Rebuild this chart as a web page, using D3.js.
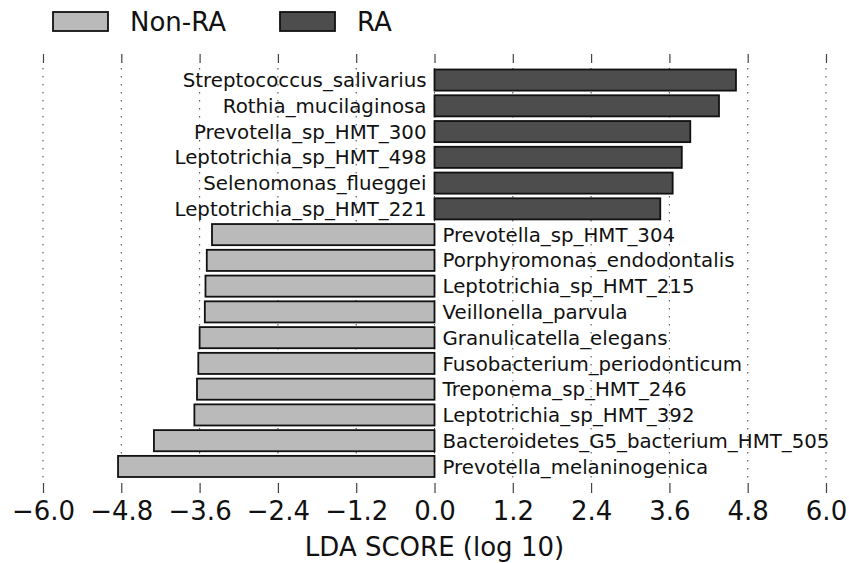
<!DOCTYPE html>
<html>
<head>
<meta charset="utf-8">
<script src="https://cdn.jsdelivr.net/npm/d3@7"></script>
<style>
  body { margin: 0; background: #fff; }
  text { font-family: 'DejaVu Sans', sans-serif; }
</style>
</head>
<body>
<div id="chart"></div>
<script>
let taxa = [
  'Streptococcus_salivarius',
  'Rothia_mucilaginosa',
  'Prevotella_sp_HMT_300',
  'Leptotrichia_sp_HMT_498',
  'Selenomonas_flueggei',
  'Leptotrichia_sp_HMT_221',
  'Prevotella_sp_HMT_304',
  'Porphyromonas_endodontalis',
  'Leptotrichia_sp_HMT_215',
  'Veillonella_parvula',
  'Granulicatella_elegans',
  'Fusobacterium_periodonticum',
  'Treponema_sp_HMT_246',
  'Leptotrichia_sp_HMT_392',
  'Bacteroidetes_G5_bacterium_HMT_505',
  'Prevotella_melaninogenica'
]
let ldaScores = [
  4.62, 4.36, 3.92, 3.79, 3.65, 3.46,
  -3.41, -3.49, -3.51, -3.52, -3.6, -3.62, -3.64, -3.68, -4.3, -4.85
]
let groups = ['Non-RA', 'RA']
let tickValues = [-6.0, -4.8, -3.6, -2.4, -1.2, 0.0, 1.2, 2.4, 3.6, 4.8, 6.0]

let width = 849
let height = 563

let svg = d3
  .select('#chart')
  .append('svg')
  .attr('width', width)
  .attr('height', height)

let data = taxa.map((t, i) => ({ name: t, score: ldaScores[i] }))

let xPositionScale = d3.scaleLinear().domain([-6, 6]).range([43, 826])
let yPositionScale = d3
  .scaleBand()
  .domain(taxa)
  .range([69.5, 477])
  .paddingInner(0.18)
  .paddingOuter(0)

let colorScale = d3.scaleOrdinal().domain(groups).range(['#bababa', '#4d4d4d'])

let axisTop = 54
let axisBottom = 493

// dotted grid
svg
  .selectAll('.grid-line')
  .data(tickValues)
  .enter()
  .append('line')
  .attr('class', 'grid-line')
  .attr('x1', d => xPositionScale(d))
  .attr('x2', d => xPositionScale(d))
  .attr('y1', axisTop + 14)
  .attr('y2', axisBottom - 10)
  .attr('stroke', '#555')
  .attr('stroke-width', 1.1)
  .attr('stroke-dasharray', '1.5,6.5')

// bars
svg
  .selectAll('.lda-bar')
  .data(data)
  .enter()
  .append('rect')
  .attr('class', 'lda-bar')
  .attr('x', d => xPositionScale(Math.min(0, d.score)))
  .attr('y', d => yPositionScale(d.name))
  .attr('width', d => Math.abs(xPositionScale(d.score) - xPositionScale(0)))
  .attr('height', yPositionScale.bandwidth())
  .attr('fill', d => colorScale(d.score > 0 ? 'RA' : 'Non-RA'))
  .attr('stroke', '#111')
  .attr('stroke-width', 1.8)

// taxa labels
svg
  .selectAll('.taxon-text')
  .data(data)
  .enter()
  .append('text')
  .attr('class', 'taxon-text')
  .attr('x', d => xPositionScale(0) + (d.score > 0 ? -8 : 8))
  .attr('y', d => yPositionScale(d.name) + yPositionScale.bandwidth() / 2)
  .attr('dy', '0.36em')
  .attr('text-anchor', d => (d.score > 0 ? 'end' : 'start'))
  .attr('font-size', 19.8)
  .attr('fill', '#111')
  .text(d => d.name)

// x axis bottom
let xAxis = d3
  .axisBottom(xPositionScale)
  .tickValues(tickValues)
  .tickFormat(d => d3.format('.1f')(d).replace('-', '\u2212'))
  .tickSize(-10)
  .tickPadding(9)
svg
  .append('g')
  .attr('class', 'axis x-axis')
  .attr('transform', 'translate(0,' + axisBottom + ')')
  .call(xAxis)
  .call(g => g.select('.domain').remove())
  .call(g => g.selectAll('.tick line').attr('stroke', '#444').attr('stroke-width', 1.2))
  .call(g =>
    g
      .selectAll('.tick text')
      .attr('font-size', 26)
      .attr('fill', '#111')
      .attr('font-family', "'DejaVu Sans', sans-serif")
  )

// top ticks
let xAxisTop = d3.axisTop(xPositionScale).tickValues(tickValues).tickSize(-9).tickFormat('')
svg
  .append('g')
  .attr('class', 'axis x-axis-top')
  .attr('transform', 'translate(0,' + axisTop + ')')
  .call(xAxisTop)
  .call(g => g.select('.domain').remove())
  .call(g => g.selectAll('.tick line').attr('stroke', '#444').attr('stroke-width', 1.2))

svg
  .append('text')
  .attr('x', xPositionScale(0))
  .attr('y', 556)
  .attr('text-anchor', 'middle')
  .attr('font-size', 26)
  .attr('fill', '#111')
  .text('LDA SCORE (log 10)')

// legend
let legendX = [53, 280]
let legend = svg
  .selectAll('.legend-item')
  .data(groups)
  .enter()
  .append('g')
  .attr('class', 'legend-item')
  .attr('transform', (d, i) => 'translate(' + legendX[i] + ',12)')

legend
  .append('rect')
  .attr('width', 55)
  .attr('height', 19)
  .attr('fill', d => colorScale(d))
  .attr('stroke', '#111')
  .attr('stroke-width', 1.8)

legend
  .append('text')
  .attr('x', 77)
  .attr('y', 19)
  .attr('font-size', 26)
  .attr('fill', '#111')
  .text(d => d)
</script>
</body>
</html>
